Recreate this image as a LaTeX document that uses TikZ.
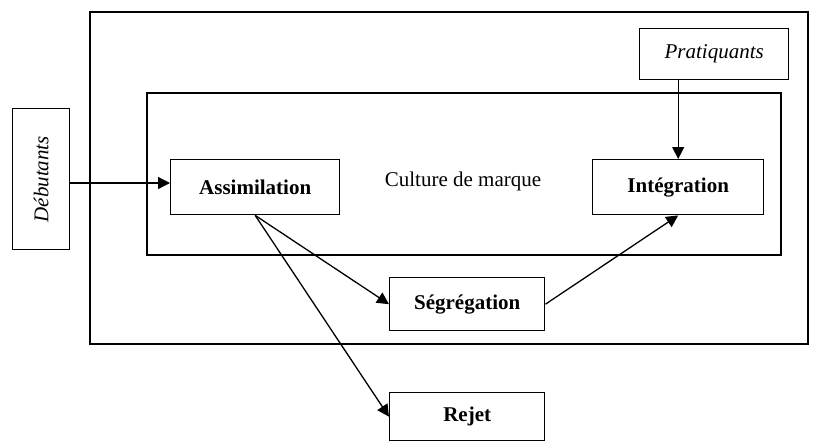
\documentclass[tikz,border=0pt]{standalone}
\usepackage{fontspec}
\setmainfont{Liberation Serif}
\usetikzlibrary{arrows.meta}
\begin{document}
\begin{tikzpicture}[x=1pt,y=-1pt,
  frame/.style={draw,line width=1.4pt},
  stage/.style={draw,line width=1.4pt,anchor=north west,inner sep=0pt,
    font=\fontsize{21}{25}\selectfont\bfseries},
  actor/.style={draw,line width=1.4pt,anchor=north west,inner sep=0pt,
    font=\fontsize{21}{25}\selectfont\itshape},
  flow/.style={line width=1.3pt,-{Triangle[length=12pt,width=12pt]}}]
\useasboundingbox (0,0) rectangle (820,440);
% brand environment and brand culture
\draw[frame] (90,12) rectangle (808,344);
\draw[frame] (147,93) rectangle (781,255);
\node[font=\fontsize{21}{25}\selectfont] (cult) at (463,181) {Culture de marque};
% entry populations
\node[actor,minimum width=57pt,minimum height=141pt] (deb) at (12,108) {};
\node[font=\fontsize{21}{25}\selectfont\itshape,rotate=90] at (deb.center) {Débutants};
\node[actor,minimum width=149pt,minimum height=51pt] (pra) at (639,28) {Pratiquants};
% acculturation stages
\node[stage,minimum width=169pt,minimum height=55pt] (ass) at (170,159) {Assimilation};
\node[stage,minimum width=171pt,minimum height=55pt] (int) at (592,159) {Intégration};
\node[stage,minimum width=155pt,minimum height=53pt] (seg) at (389,277) {Ségrégation};
\node[stage,minimum width=155pt,minimum height=48pt] (rej) at (389,392) {Rejet};
% transitions
\draw[flow] (deb.east |- 0,183) -- (ass.west |- 0,183);
\draw[flow] (pra.south -| int.north) -- (int.north);
\draw[flow] (ass.south) -- (seg.west);
\draw[flow] (ass.south) -- (rej.west);
\draw[flow] (seg.east) -- (int.south);
\end{tikzpicture}
\end{document}
